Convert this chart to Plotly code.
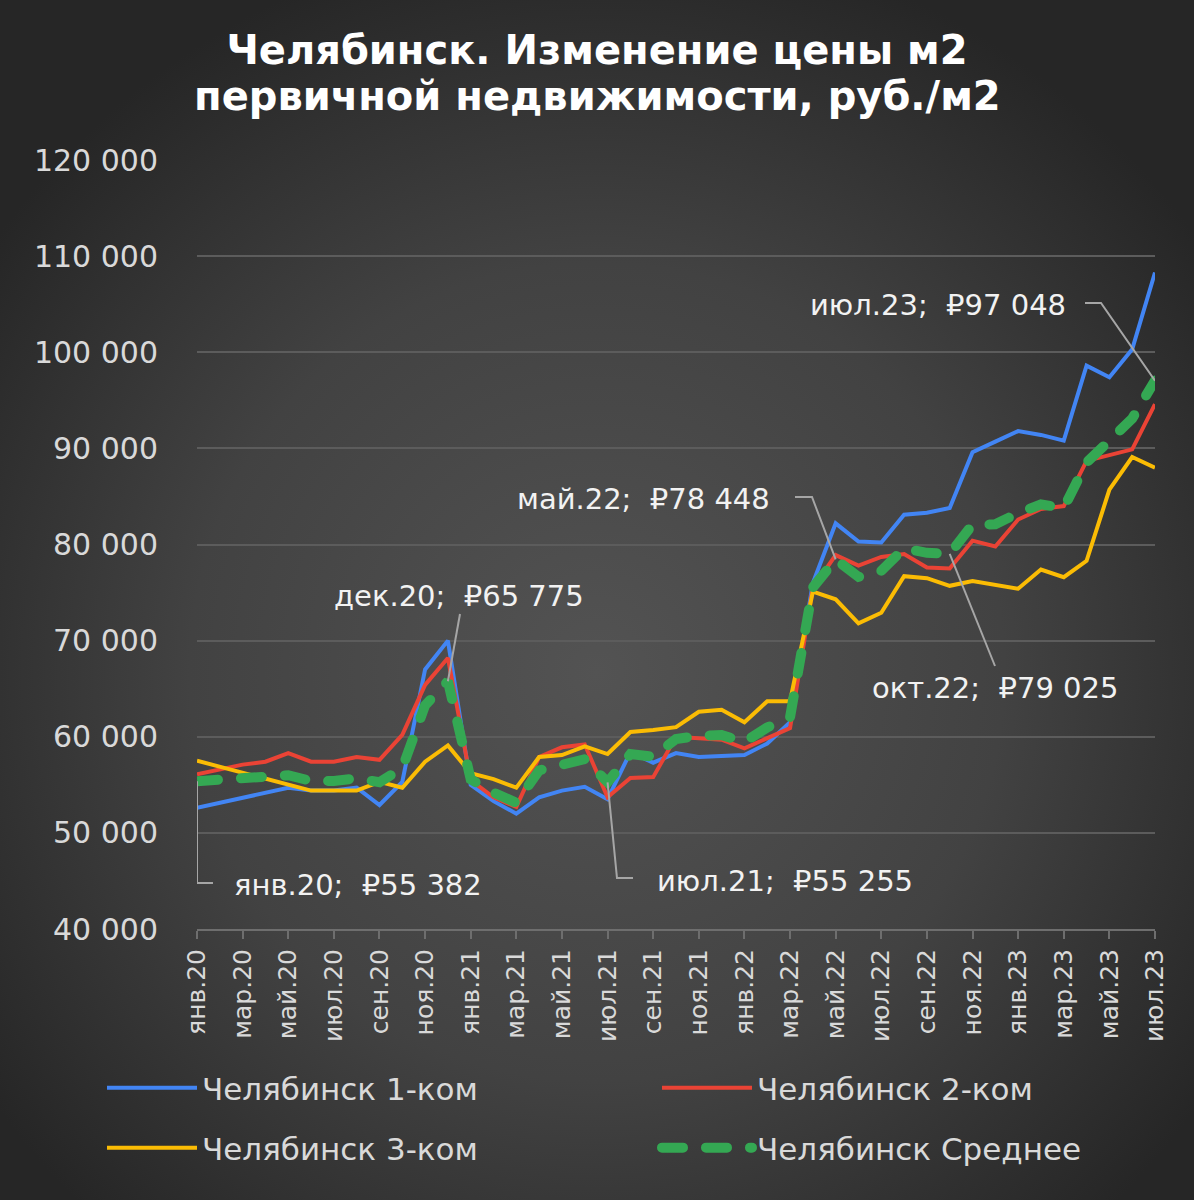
import base64
import plotly.graph_objects as go

months = ["янв.20", "фев.20", "мар.20", "апр.20", "май.20", "июн.20", "июл.20", "авг.20", "сен.20", "окт.20",
          "ноя.20", "дек.20", "янв.21", "фев.21", "мар.21", "апр.21", "май.21", "июн.21", "июл.21", "авг.21",
          "сен.21", "окт.21", "ноя.21", "дек.21", "янв.22", "фев.22", "мар.22", "апр.22", "май.22", "июн.22",
          "июл.22", "авг.22", "сен.22", "окт.22", "ноя.22", "дек.22", "янв.23", "фев.23", "мар.23", "апр.23",
          "май.23", "июн.23", "июл.23"]

room1 = [52600, 53100, 53700, 54100, 54700, 54400, 54400, 54700, 52900, 55300,
         67000, 70000, 55000, 53300, 52000, 53700, 54400, 54800, 53500, 58400,
         57300, 58300, 57900, 58000, 58100, 59300, 61500, 76000, 82200, 80300,
         80200, 83100, 83300, 83800, 89600, 90700, 91800, 91400, 90800, 98600,
         97400, 100300, 108300]

room2 = [56100, 56600, 57100, 57400, 58300, 57400, 57400, 57900, 57600, 60200,
         65400, 68200, 55500, 53700, 52700, 57900, 58900, 59200, 53700, 55700,
         55800, 60000, 59800, 59700, 58800, 59900, 60900, 75500, 78900, 77800,
         78700, 79000, 77600, 77500, 80400, 79800, 82600, 83700, 84000, 88700,
         89300, 89900, 94600]

room3 = [57500, 56900, 56300, 55600, 55000, 54400, 54400, 54400, 55300, 54700,
         57400, 59100, 56200, 55600, 54700, 57900, 58100, 59000, 58200, 60500,
         60700, 61000, 62600, 62800, 61500, 63700, 63700, 75100, 74300, 71800,
         72900, 76700, 76500, 75700, 76200, 75800, 75400, 77400, 76600, 78300,
         85700, 89100, 88000]

average = [55382, 55530, 55700, 55700, 56000, 55400, 55400, 55670, 55270, 56730,
           63270, 65775, 55570, 54200, 53130, 56500, 57130, 57670, 55255, 58200,
           57930, 59770, 60100, 60170, 59470, 60970, 62030, 75530, 78448, 76630,
           77270, 79600, 79130, 79025, 82070, 82100, 83270, 84170, 83800, 88530,
           90800, 93100, 97048]

series_names = ["Челябинск 1-ком", "Челябинск 2-ком", "Челябинск 3-ком", "Челябинск Среднее"]
title_lines = ["Челябинск. Изменение цены м2", "первичной недвижимости, руб./м2"]
tick_idx = list(range(0, len(months), 2))
tick_text = [months[i] for i in tick_idx]
y_ticks = list(range(40000, 120001, 10000))
y_tick_text = [f"{v:,}".replace(",", " ") for v in y_ticks]

# labelled points of the average line
label_idx = [0, 11, 18, 28, 33, 42]

W, H = 1194, 1200
ML, MR, MT, MB = 197, 39, 160, 271
PW, PH = W - ML - MR, H - MT - MB
X0, X1 = 0, len(months) - 1
Y0, Y1 = 40000, 120000


def px_to_x(px):
    return X0 + (px - ML) / PW * (X1 - X0)


def px_to_y(py):
    return Y0 + (MT + PH - py) / PH * (Y1 - Y0)


def paper_x(px):
    return (px - ML) / PW


def paper_y(py):
    return 1 - (py - MT) / PH


FONT = "DejaVu Sans"
x = list(range(len(months)))

fig = go.Figure()
fig.add_trace(go.Scatter(x=x, y=room1, mode="lines", name=series_names[0],
                         line=dict(color="#4285F4", width=4), legend="legend"))
fig.add_trace(go.Scatter(x=x, y=room2, mode="lines", name=series_names[1],
                         line=dict(color="#EA4335", width=4), legend="legend2"))
fig.add_trace(go.Scatter(x=x, y=room3, mode="lines", name=series_names[2],
                         line=dict(color="#FBBC04", width=4), legend="legend3"))
fig.add_trace(go.Scatter(x=x, y=average, mode="lines", name=series_names[3],
                         line=dict(color="#34A853", width=10, dash="21px,23px"), legend="legend4"))

# background radial gradient
svg = f'''<svg xmlns="http://www.w3.org/2000/svg" width="{W}" height="{H}" viewBox="0 0 {W} {H}">
<defs><radialGradient id="g" cx="0.5" cy="0.56" r="0.62">
<stop offset="0" stop-color="#535353"/><stop offset="0.55" stop-color="#424242"/><stop offset="1" stop-color="#262626"/>
</radialGradient></defs><rect width="{W}" height="{H}" fill="url(#g)"/></svg>'''
src = "data:image/svg+xml;base64," + base64.b64encode(svg.encode()).decode()
fig.add_layout_image(dict(source=src, xref="paper", yref="paper",
                          x=-ML / PW, y=1 + MT / PH, sizex=W / PW, sizey=H / PH,
                          xanchor="left", yanchor="top", sizing="stretch", layer="below"))

# annotations with leader lines
lab_color = "#F2F2F2"
line_col = "#A6A6A6"
ann_font = dict(family=FONT, size=29, color=lab_color)


def val_text(i):
    return f"{months[i]};  ₽{average[i]:,}".replace(",", " ")


leaders = [
    (label_idx[0], [(197, 883), (213, 883)], (232, 885), "left"),
    (label_idx[1], [(460, 614)], (459, 596), "center"),
    (label_idx[2], [(617, 878), (633, 878)], (655, 881), "left"),
    (label_idx[3], [(812, 497), (795, 497)], (772, 499), "right"),
    (label_idx[4], [(995, 666)], (995, 688), "center"),
    (label_idx[5], [(1101, 303), (1085, 303)], (1068, 305), "right"),
]
for i, pts, (tx, ty), xa in leaders:
    path = f"M {i},{average[i]}"
    for (pxx, pyy) in pts:
        path += f" L {px_to_x(pxx):.3f},{px_to_y(pyy):.1f}"
    fig.add_shape(type="path", path=path, xref="x", yref="y",
                  line=dict(color=line_col, width=2), layer="above")
    fig.add_annotation(x=px_to_x(tx), y=px_to_y(ty), xref="x", yref="y", text=val_text(i),
                       showarrow=False, xanchor=xa, yanchor="middle", font=ann_font)

# second title line
title_font = dict(family=FONT, size=40, color="#FFFFFF")
fig.add_annotation(x=paper_x(W / 2), y=paper_y(96), xref="paper", yref="paper",
                   text=f"<b>{title_lines[1]}</b>",
                   showarrow=False, xanchor="center", yanchor="middle", font=title_font)

leg_font = dict(family=FONT, size=31, color="#D9D9D9")
legend_pos = {"legend": (102, 1088), "legend2": (657, 1088),
              "legend3": (102, 1148), "legend4": (657, 1148)}
legend_cfg = {}
for key, (lx, ly) in legend_pos.items():
    legend_cfg[key] = dict(orientation="h", x=paper_x(lx), xanchor="left",
                           y=paper_y(ly), yanchor="middle", itemwidth=90,
                           bgcolor="rgba(0,0,0,0)", font=leg_font)

fig.update_layout(
    width=W, height=H,
    margin=dict(l=ML, r=MR, t=MT, b=MB, pad=0),
    paper_bgcolor="#3a3a3a",
    plot_bgcolor="rgba(0,0,0,0)",
    title=dict(text=f"<b>{title_lines[0]}</b>",
               x=0.5, xref="container", xanchor="center", y=1 - 50 / H, yanchor="middle",
               font=title_font),
    xaxis=dict(range=[X0, X1], tickmode="array", tickvals=tick_idx, ticktext=tick_text,
               tickangle=-90, showgrid=False, zeroline=False,
               showline=True, linecolor="#6e6e6e", linewidth=2,
               ticks="outside", ticklen=8, tickwidth=2, tickcolor="#6e6e6e",
               tickfont=dict(family=FONT, size=25, color="#D9D9D9")),
    yaxis=dict(range=[Y0, Y1], tickmode="array", tickvals=y_ticks, ticktext=y_tick_text,
               showgrid=True, gridcolor="#5c5c5c", gridwidth=2, zeroline=False,
               showline=False, ticks="", ticklabelstandoff=38,
               tickfont=dict(family=FONT, size=30, color="#D9D9D9")),
    showlegend=True,
    **legend_cfg,
)

post = """
document.body.style.margin = '0';
document.body.style.padding = '0';
var fix = function(){
  document.querySelectorAll('path').forEach(function(p){
    var s = p.style.stroke || '';
    if (s.replace(/ /g,'') === 'rgb(52,168,83)') { p.style.strokeLinecap = 'round'; }
  });
};
fix();
var gd = document.getElementById('{plot_id}');
if (gd && gd.on) { gd.on('plotly_afterplot', fix); }
"""

fig.write_html("out.html", post_script=post, config={"displayModeBar": False})
